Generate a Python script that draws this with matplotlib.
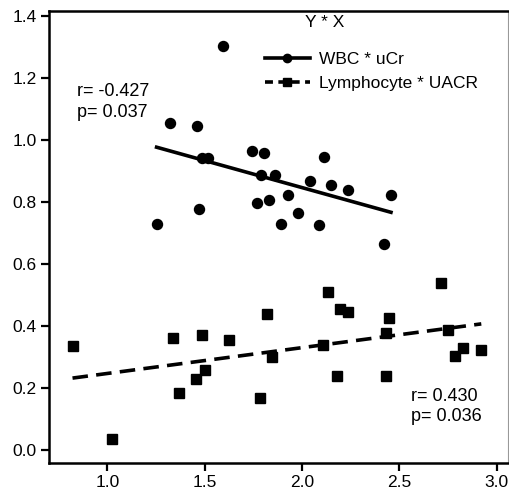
import numpy as np
import matplotlib
matplotlib.use("Agg")
import matplotlib.pyplot as plt

plt.rcParams['font.family'] = ['Liberation Sans', 'DejaVu Sans']

# WBC * uCr (circles)
wbc_x = [1.595, 1.321, 1.462, 1.485, 1.518, 1.743, 1.806, 2.112, 1.791, 1.859,
         2.041, 2.151, 2.236, 2.457, 1.930, 1.768, 1.832, 1.471, 1.981, 1.253,
         1.893, 2.087, 2.423]
wbc_y = [1.304, 1.054, 1.045, 0.943, 0.943, 0.965, 0.959, 0.946, 0.887, 0.887,
         0.869, 0.855, 0.839, 0.822, 0.822, 0.797, 0.806, 0.777, 0.766, 0.731,
         0.731, 0.726, 0.665]

# Lymphocyte * UACR (squares)
lym_x = [0.821, 1.026, 1.338, 1.369, 1.485, 1.454, 1.502, 1.626, 1.821, 1.782,
         1.845, 2.134, 2.197, 2.236, 2.110, 2.182, 2.447, 2.430, 2.430, 2.714,
         2.752, 2.787, 2.828, 2.921]
lym_y = [0.335, 0.035, 0.362, 0.183, 0.372, 0.230, 0.258, 0.354, 0.440, 0.169,
         0.299, 0.511, 0.454, 0.444, 0.340, 0.239, 0.426, 0.378, 0.239, 0.540,
         0.386, 0.305, 0.329, 0.322]

x_ticks = [1.0, 1.5, 2.0, 2.5, 3.0]
y_ticks = [0.0, 0.2, 0.4, 0.6, 0.8, 1.0, 1.2, 1.4]

fig = plt.figure(figsize=(5.1, 4.96), dpi=100)
ax = fig.add_axes([0.096, 0.067, 0.9, 0.911])

ax.plot(wbc_x, wbc_y, 'o', color='black', markersize=7.2, linestyle='none')
ax.plot(lym_x, lym_y, 's', color='black', markersize=7.2, linestyle='none')

# regression lines
for xs, ys, ls in [(wbc_x, wbc_y, '-'), (lym_x, lym_y, '--')]:
    xs = np.array(xs)
    k, b = np.polyfit(xs, ys, 1)
    xx = np.array([xs.min(), xs.max()])
    line, = ax.plot(xx, k * xx + b, color='black', lw=2.6, linestyle=ls)
    if ls == '--':
        line.set_dashes((4.3, 2.3))

# legend proxies
h1, = ax.plot([], [], color='black', lw=2.6, marker='o', markersize=6)
h2, = ax.plot([], [], color='black', lw=2.6, marker='s', markersize=6, dashes=(2.2, 1.5))
ax.legend([h1, h2], ['WBC * uCr', 'Lymphocyte * UACR'], loc='upper left',
          bbox_to_anchor=(0.451, 0.928), frameon=False, fontsize=12.5,
          handlelength=2.6, handletextpad=0.55, labelspacing=0.52, borderpad=0)
ax.text(0.558, 0.974, 'Y * X', transform=ax.transAxes, fontsize=12.5, va='center')

ax.text(0.842, 1.123, 'r= -0.427\np= 0.037', fontsize=13, va='center', linespacing=1.25)
ax.text(2.558, 0.140, 'r= 0.430\np= 0.036', fontsize=13, va='center', linespacing=1.25)

ax.set_xlim(0.70, 3.058)
ax.set_ylim(-0.041, 1.417)
ax.set_xticks(x_ticks)
ax.set_yticks(y_ticks)
ax.set_xticklabels([f'{t:.1f}' for t in x_ticks])
ax.set_yticklabels([f'{t:.1f}' for t in y_ticks])
ax.tick_params(direction='out', length=6, width=1.6, labelsize=12.5, pad=3)

for s in ['left', 'bottom', 'top']:
    ax.spines[s].set_linewidth(1.8)
ax.spines['right'].set_color('#999999')
ax.spines['right'].set_linewidth(0.8)

fig.savefig('out.png', dpi=100)
